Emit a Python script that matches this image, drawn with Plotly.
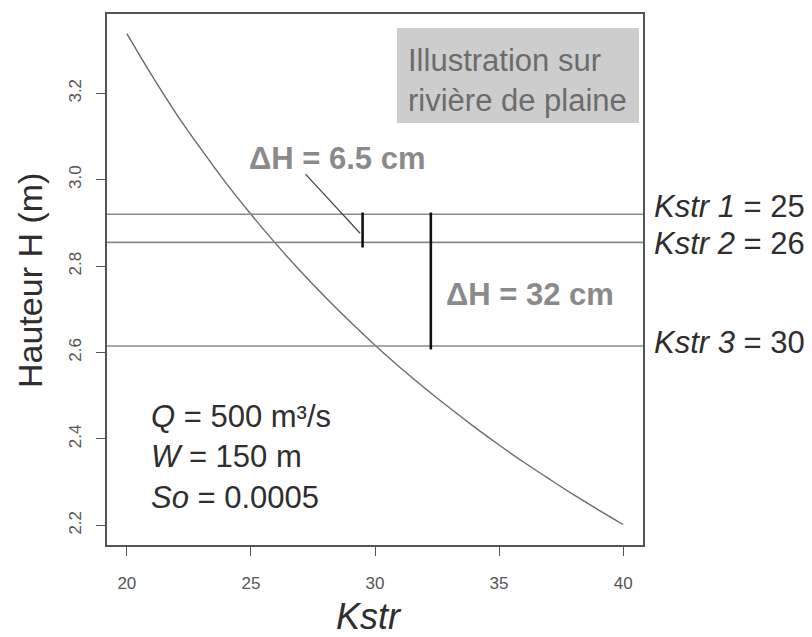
import plotly.graph_objects as go

# Water depth H (m) as a function of the Strickler coefficient Kstr
kstr = [20, 21, 22, 23, 24, 25, 26, 27, 28, 29, 30,
        31, 32, 33, 34, 35, 36, 37, 38, 39, 40]
hauteur = [3.338, 3.242, 3.152, 3.070, 2.992, 2.920, 2.852, 2.788, 2.728, 2.671, 2.617,
           2.566, 2.518, 2.472, 2.428, 2.386, 2.346, 2.308, 2.271, 2.236, 2.202]

# Reference roughness values and the corresponding water depths
kstr_levels = [25, 26, 30]
h_levels = [2.920, 2.855, 2.615]

# Depth differences drawn as vertical bars: (Kstr position, label)
delta_x = [29.5, 32.25]
delta_labels = ["ΔH = 6.5 cm", "ΔH = 32 cm"]

x_ticks = [20, 25, 30, 35, 40]
y_ticks = [2.2, 2.4, 2.6, 2.8, 3.0, 3.2]
y_ticktext = ["2.2", "2.4", "2.6", "2.8", "3.0", "3.2"]

params = ["<i>Q</i> = 500 m³/s", "<i>W</i> = 150 m", "<i>So</i> = 0.0005"]

W, H = 812, 637
L, R, T, B = 107, 169, 14, 92
PW, PH = W - L - R, H - T - B


def px(x):
    return (x - L) / PW


def py(y):
    return (H - B - y) / PH


FONT = "Liberation Sans, Arial, sans-serif"
NARROW = "Liberation Sans Narrow, Arial Narrow, Liberation Sans, Arial, sans-serif"

fig = go.Figure()

fig.add_trace(go.Scatter(
    x=kstr, y=hauteur, mode="lines", line=dict(color="#6a6a6a", width=1.4, shape="spline"),
    showlegend=False, hoverinfo="skip"))

shapes = []
# horizontal depth levels across the plotting region
for h in h_levels:
    shapes.append(dict(type="line", xref="paper", yref="y", x0=0, x1=1, y0=h, y1=h,
                       line=dict(color="#8a8a8a", width=1.6), layer="above"))

# vertical difference bars
shapes.append(dict(type="line", xref="x", yref="y", x0=delta_x[0], x1=delta_x[0],
                   y0=h_levels[0] + 0.004, y1=h_levels[1] - 0.012,
                   line=dict(color="#111111", width=2.6)))
shapes.append(dict(type="line", xref="x", yref="y", x0=delta_x[1], x1=delta_x[1],
                   y0=h_levels[0] + 0.004, y1=h_levels[2] - 0.008,
                   line=dict(color="#111111", width=2.6)))

# leader from the small-difference label to its bar
shapes.append(dict(type="line", xref="x", yref="y", x0=27.2, y0=3.013, x1=29.4, y1=2.876,
                   line=dict(color="#444444", width=1.2)))

# grey caption box
shapes.append(dict(type="rect", xref="paper", yref="paper",
                   x0=px(397), x1=px(639), y0=py(123), y1=py(28),
                   fillcolor="#cdcdcd", line=dict(width=0), layer="below"))

annotations = []
annotations.append(dict(xref="paper", yref="paper", x=px(406), y=py(81),
                        xanchor="left", yanchor="middle", align="left", showarrow=False,
                        text="Illustration sur<br>rivière de plaine",
                        font=dict(family=FONT, size=31, color="#6c6c6c")))

annotations.append(dict(xref="paper", yref="paper", x=px(337), y=py(158),
                        xanchor="center", yanchor="middle", showarrow=False,
                        text="<b>" + delta_labels[0] + "</b>",
                        font=dict(family=FONT, size=31, color="#8a8a8a")))
annotations.append(dict(xref="paper", yref="paper", x=px(530), y=py(294),
                        xanchor="center", yanchor="middle", showarrow=False,
                        text="<b>" + delta_labels[1] + "</b>",
                        font=dict(family=FONT, size=31, color="#8a8a8a")))

label_y = [206, 244, 342]
for i, k in enumerate(kstr_levels):
    annotations.append(dict(xref="paper", yref="paper", x=px(652), y=py(label_y[i]),
                            xanchor="left", yanchor="middle", showarrow=False,
                            text=f"<i>Kstr {i + 1}</i> = {k}",
                            font=dict(family=FONT, size=31, color="#2e2e2e")))

annotations.append(dict(xref="paper", yref="paper", x=px(149), y=py(457),
                        xanchor="left", yanchor="middle", align="left", showarrow=False,
                        text="<br>".join(params),
                        font=dict(family=FONT, size=31, color="#2e2e2e")))

annotations.append(dict(xref="paper", yref="paper", x=px(30), y=py(281),
                        xanchor="center", yanchor="middle", textangle=-90, showarrow=False,
                        text="Hauteur H (m)",
                        font=dict(family=FONT, size=34, color="#2e2e2e")))
annotations.append(dict(xref="paper", yref="paper", x=px(369), y=py(616),
                        xanchor="center", yanchor="middle", showarrow=False,
                        text="<i>Kstr</i>",
                        font=dict(family=FONT, size=36, color="#2e2e2e")))

axis_common = dict(showline=True, mirror=True, linecolor="#555555", linewidth=1.5,
                   ticks="outside", ticklen=9, tickwidth=1.2, tickcolor="#555555",
                   showgrid=False, zeroline=False,
                   tickfont=dict(family=NARROW, size=17, color="#555555"))

fig.update_layout(
    width=W, height=H,
    margin=dict(l=L, r=R, t=T, b=B),
    paper_bgcolor="white", plot_bgcolor="white",
    xaxis=dict(range=[19.2, 40.8], tickvals=x_ticks, ticklabelstandoff=13, **axis_common),
    yaxis=dict(range=[2.1545, 3.3835], tickvals=y_ticks, ticktext=y_ticktext,
               tickangle=-90, ticklabelstandoff=8, **axis_common),
    shapes=shapes, annotations=annotations, showlegend=False,
)

fig.write_html("out.html")
